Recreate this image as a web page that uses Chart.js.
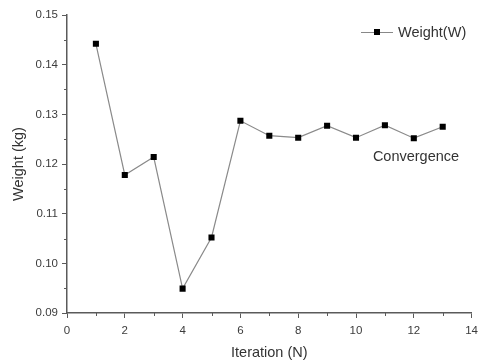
<!DOCTYPE html>
<html>
<head>
<meta charset="utf-8">
<script src="https://cdn.jsdelivr.net/npm/chart.js@4"></script>
<style>
  html, body { margin: 0; padding: 0; background: #fff; }
  #wrap { width: 484px; height: 362px; }
</style>
</head>
<body>
<div id="wrap"><canvas id="weight-chart"></canvas></div>
<script>
// data
const iterations = [1, 2, 3, 4, 5, 6, 7, 8, 9, 10, 11, 12, 13];
const weights = [0.1442, 0.1178, 0.1214, 0.0949, 0.1052, 0.1287, 0.1257, 0.1253, 0.1277, 0.1253, 0.1278, 0.1252, 0.1275];
const xMinorTicks = [1, 3, 5, 7, 9, 11, 13];
const yMinorTicks = [0.095, 0.105, 0.115, 0.125, 0.135, 0.145];
const seriesLabel = 'Weight(W)';
const noteText = 'Convergence';

const FONT = '"Liberation Sans", Arial, sans-serif';
const AXIS = '#5a5a5a';

// small ticks between the labelled ones + legend and note text
const extras = {
    id: 'extras',
    afterDraw(chart) {
        const ctx = chart.ctx;
        const xs = chart.scales.x, ys = chart.scales.y;
        ctx.save();
        ctx.strokeStyle = AXIS;
        ctx.lineWidth = 1;
        xMinorTicks.forEach(v => {
            const px = Math.round(xs.getPixelForValue(v)) + 0.5;
            ctx.beginPath();
            ctx.moveTo(px, ys.bottom);
            ctx.lineTo(px, ys.bottom + 3);
            ctx.stroke();
        });
        yMinorTicks.forEach(v => {
            const py = Math.round(ys.getPixelForValue(v)) + 0.5;
            ctx.beginPath();
            ctx.moveTo(xs.left - 3, py);
            ctx.lineTo(xs.left, py);
            ctx.stroke();
        });

        // legend
        ctx.strokeStyle = '#888';
        ctx.beginPath();
        ctx.moveTo(361, 32.5);
        ctx.lineTo(393, 32.5);
        ctx.stroke();
        ctx.fillStyle = '#000';
        ctx.fillRect(374, 29, 6, 6);
        ctx.fillStyle = '#333';
        ctx.font = '14.5px ' + FONT;
        ctx.textBaseline = 'middle';
        ctx.textAlign = 'left';
        ctx.fillText(seriesLabel, 398, 33);

        // note
        ctx.textAlign = 'center';
        ctx.fillText(noteText, 416, 157);
        ctx.restore();
    }
};

const ctx = document.getElementById('weight-chart').getContext('2d');
const weightChart = new Chart(ctx, {
    type: 'line',
    data: {
        datasets: [{
            label: seriesLabel,
            data: iterations.map((n, i) => ({ x: n, y: weights[i] })),
            borderColor: '#8a8a8a',
            borderWidth: 1.2,
            backgroundColor: '#000',
            pointStyle: 'rect',
            pointRadius: 4.3,
            pointBorderWidth: 0,
            pointBackgroundColor: '#000',
            tension: 0,
            fill: false
        }]
    },
    options: {
        responsive: true,
        maintainAspectRatio: false,
        animation: false,
        layout: { padding: { top: 15, right: 11, left: 0, bottom: 0 } },
        plugins: {
            legend: { display: false },
            tooltip: { enabled: false }
        },
        scales: {
            x: {
                type: 'linear',
                min: 0,
                max: 14,
                ticks: {
                    stepSize: 2,
                    color: '#3c3c3c',
                    font: { family: FONT, size: 11.5 },
                    padding: 6,
                    maxRotation: 0
                },
                grid: { drawOnChartArea: false, drawTicks: true, tickLength: 5, color: AXIS },
                border: { display: true, color: AXIS, width: 1.5 },
                title: {
                    display: true,
                    text: 'Iteration (N)',
                    color: '#333',
                    font: { family: FONT, size: 14.5 },
                    padding: { top: 2, bottom: 0 }
                },
                afterFit: s => { s.height = 49; }
            },
            y: {
                min: 0.09,
                max: 0.15,
                ticks: {
                    stepSize: 0.01,
                    color: '#3c3c3c',
                    font: { family: FONT, size: 11.5 },
                    padding: 4,
                    callback: v => v.toFixed(2)
                },
                grid: { drawOnChartArea: false, drawTicks: true, tickLength: 5, color: AXIS },
                border: { display: true, color: AXIS, width: 1.5 },
                title: {
                    display: true,
                    text: 'Weight (kg)',
                    color: '#333',
                    font: { family: FONT, size: 14.5 },
                    padding: { top: 10, bottom: 0 }
                },
                afterFit: s => { s.width = 67; }
            }
        }
    },
    plugins: [extras]
});
</script>
</body>
</html>
